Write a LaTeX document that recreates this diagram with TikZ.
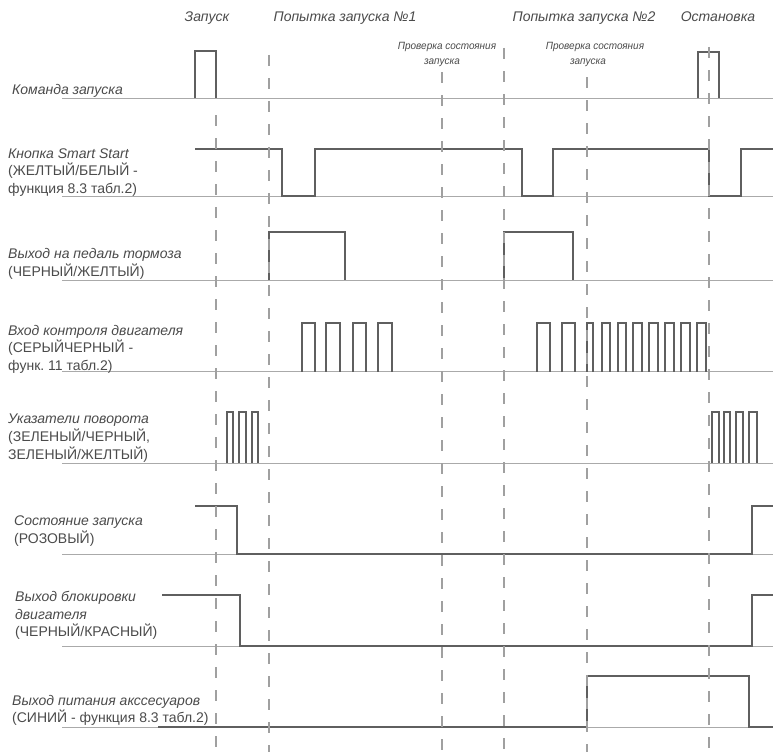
\documentclass[tikz,border=0pt]{standalone}
\usepackage{fontspec}
\setmainfont{Liberation Sans}
\definecolor{basegray}{RGB}{170,170,170}
\definecolor{siggray}{RGB}{95,95,95}
\definecolor{dashgray}{RGB}{160,160,160}
\definecolor{txtgray}{RGB}{75,75,75}
\frenchspacing
\begin{document}
\begin{tikzpicture}[x=1pt,y=-1pt,
  baseln/.style={draw=basegray, line width=1pt},
  sig/.style={draw=siggray, line width=1.5pt, line join=miter},
  gridln/.style={draw=dashgray, line width=1.2pt, dash pattern=on 11pt off 12pt},
  hdr/.style={anchor=base, inner sep=0pt, text=txtgray, font=\fontsize{14}{16}\selectfont\itshape},
  lab/.style={anchor=base west, inner sep=0pt, text=txtgray, font=\fontsize{14}{16}\selectfont\itshape},
  labu/.style={anchor=base west, inner sep=0pt, text=txtgray, font=\fontsize{14}{16}\selectfont},
  chk/.style={anchor=base, inner sep=0pt, text=txtgray, font=\fontsize{10.5}{12}\selectfont\itshape}]
\useasboundingbox (0,0) rectangle (773,752);
\fill[white] (0,0) rectangle (773,752);

% baselines
\foreach \y in {98,196,280,371.5,463,554,646,727}
  \draw[baseln] (62,\y) -- (773,\y);

% headers
\node[hdr] (h1) at (207,22) {Запуск};
\node[hdr] (h2) at (345,22) {Попытка запуска №1};
\node[hdr] (h3) at (584,22) {Попытка запуска №2};
\node[hdr] (h4) at (718,22) {Остановка};
\node[chk] (c1a) at (447,50) {\scalebox{0.95}[1]{Проверка состояния}};
\node[chk] (c1b) at (442,64) {\scalebox{0.95}[1]{запуска}};
\node[chk] (c2a) at (595,50) {\scalebox{0.95}[1]{Проверка состояния}};
\node[chk] (c2b) at (588,64) {\scalebox{0.95}[1]{запуска}};

% left labels
\node[lab] (l1) at (12,94) {Команда запуска};
\node[lab] (l2a) at (8,158) {Кнопка Smart Start};
\node[labu] (l2b) at (8,175.5) {(ЖЕЛТЫЙ/БЕЛЫЙ -};
\node[labu] (l2c) at (8,193) {функция 8.3 табл.2)};
\node[lab] (l3a) at (8,258) {Выход на педаль тормоза};
\node[labu] (l3b) at (8,276) {(ЧЕРНЫЙ/ЖЕЛТЫЙ)};
\node[lab] (l4a) at (8,335) {Вход контроля двигателя};
\node[labu] (l4b) at (8,352.5) {(СЕРЫЙЧЕРНЫЙ -};
\node[labu] (l4c) at (8,370) {функ. 11 табл.2)};
\node[lab] (l5a) at (8,423) {Указатели поворота};
\node[labu] (l5b) at (8,441) {(ЗЕЛЕНЫЙ/ЧЕРНЫЙ,};
\node[labu] (l5c) at (8,459) {ЗЕЛЕНЫЙ/ЖЕЛТЫЙ)};
\node[lab] (l6a) at (14,525.5) {Состояние запуска};
\node[labu] (l6b) at (14,543) {(РОЗОВЫЙ)};
\node[lab] (l7a) at (15,601.5) {Выход блокировки};
\node[lab] (l7b) at (15,619) {двигателя};
\node[labu] (l7c) at (15,636.5) {(ЧЕРНЫЙ/КРАСНЫЙ)};
\node[lab] (l8a) at (12,705) {Выход питания акссесуаров};
\node[labu] (l8b) at (12,722) {(СИНИЙ - функция 8.3 табл.2)};

% signals
% 1 command
\draw[sig] (195,98) -- (195,51) -- (216,51) -- (216,98);
\draw[sig] (698,98) -- (698,52) -- (719,52) -- (719,98);
% 2 smart start
\draw[sig] (195,149) -- (282,149) -- (282,196) -- (315,196) -- (315,149) -- (522,149)
  -- (522,196) -- (553,196) -- (553,149) -- (709,149) -- (709,196) -- (741,196) -- (741,149) -- (773,149);
% 3 brake
\foreach \a/\b in {269/345,504/573}
  \draw[sig] (\a,280) -- (\a,232) -- (\b,232) -- (\b,280);
% 4 engine control
\foreach \a/\b in {302/315,326/340,353/366,378/392,537/550,562/575,587/593,602/610,618/626,633/642,649/658,665/674,681/690,697/706}
  \draw[sig, line width=1.3pt] (\a,371.5) -- (\a,323) -- (\b,323) -- (\b,371.5);
% 5 turn signals
\foreach \a/\b in {227/233,239/246,252/258,712/719,724/730,736/743,749/757}
  \draw[sig, line width=1.3pt] (\a,463) -- (\a,412) -- (\b,412) -- (\b,463);
% 6 launch state
\draw[sig] (195,506) -- (237,506) -- (237,554) -- (752,554) -- (752,506) -- (773,506);
% 7 engine block
\draw[sig] (162,595) -- (240,595) -- (240,646) -- (752,646) -- (752,595) -- (773,595);
% 8 accessory
\draw[sig] (158,727) -- (587,727) -- (587,676) -- (749,676) -- (749,727) -- (773,727);

% dashed time markers
\draw[gridln] (216,115) -- (216,752);
\draw[gridln] (269,55) -- (269,752);
\draw[gridln] (442,72) -- (442,752);
\draw[gridln] (504,48) -- (504,752);
\draw[gridln] (587,77) -- (587,752);
\draw[gridln] (709,47) -- (709,752);
\end{tikzpicture}
\end{document}
